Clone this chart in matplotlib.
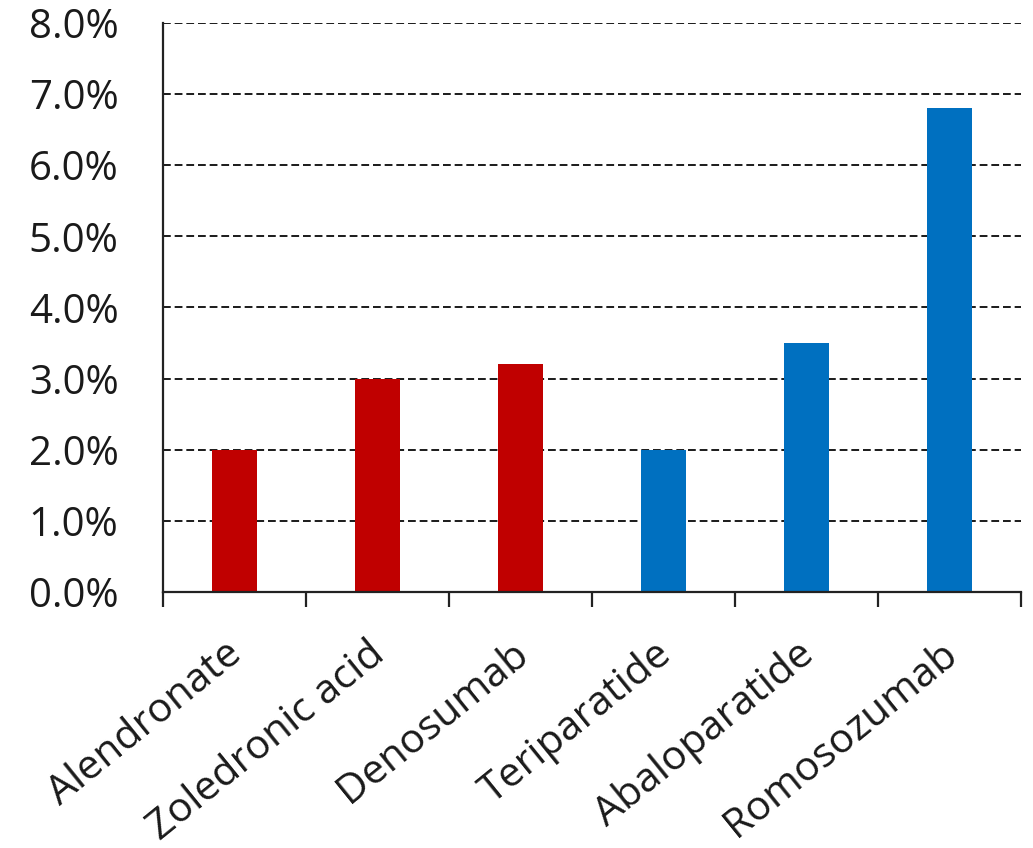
import matplotlib
matplotlib.use("Agg")
import matplotlib.pyplot as plt
import matplotlib.transforms as mtransforms
from matplotlib.ticker import FuncFormatter, FixedLocator

# Drug names and their values (percent)
drugs = ["Alendronate", "Zoledronic acid", "Denosumab",
         "Teriparatide", "Abaloparatide", "Romosozumab"]
values = [2.0, 3.0, 3.2, 2.0, 3.5, 6.8]
bar_colors = ["#C00000", "#C00000", "#C00000",
              "#0070C0", "#0070C0", "#0070C0"]
y_ticks = [0, 1, 2, 3, 4, 5, 6, 7, 8]

plt.rcParams["font.family"] = ["Open Sans", "DejaVu Sans"]

fig = plt.figure(figsize=(10.33, 8.48), dpi=100)
ax = fig.add_axes([0.1578, 0.3019, 0.8306, 0.6710])

x = list(range(len(drugs)))
ax.bar(x, values, width=0.31, color=bar_colors, zorder=2)

ax.set_xlim(-0.5, len(drugs) - 0.5)
ax.set_ylim(0, 8)

ax.set_yticks(y_ticks)
ax.yaxis.set_major_formatter(FuncFormatter(lambda v, p: f"{v:.1f}%"))
ax.tick_params(axis="y", length=0, pad=32, labelsize=29, labelcolor="#1a1a1a")

ax.set_xticks(x)
ax.set_xticklabels(drugs, rotation=39, ha="right", va="top",
                   rotation_mode="anchor", fontsize=29.5, color="#1a1a1a")
ax.tick_params(axis="x", which="major", length=0, pad=30)
# nudge the slanted category labels slightly to the left
shift = mtransforms.ScaledTranslation(-0.10, 0, fig.dpi_scale_trans)
for lbl in ax.get_xticklabels():
    lbl.set_transform(lbl.get_transform() + shift)
ax.xaxis.set_minor_locator(FixedLocator([i - 0.5 for i in range(len(drugs) + 1)]))
ax.tick_params(axis="x", which="minor", length=11, width=1.6, color="#222222",
               direction="out")

ax.grid(axis="y", color="#1a1a1a", linestyle=(0, (4, 2)), linewidth=1.4, zorder=1)
ax.set_axisbelow(True)

for side in ["top", "right"]:
    ax.spines[side].set_visible(False)
for side in ["left", "bottom"]:
    ax.spines[side].set_color("#222222")
    ax.spines[side].set_linewidth(1.6)

fig.savefig("out.png", dpi=100)
